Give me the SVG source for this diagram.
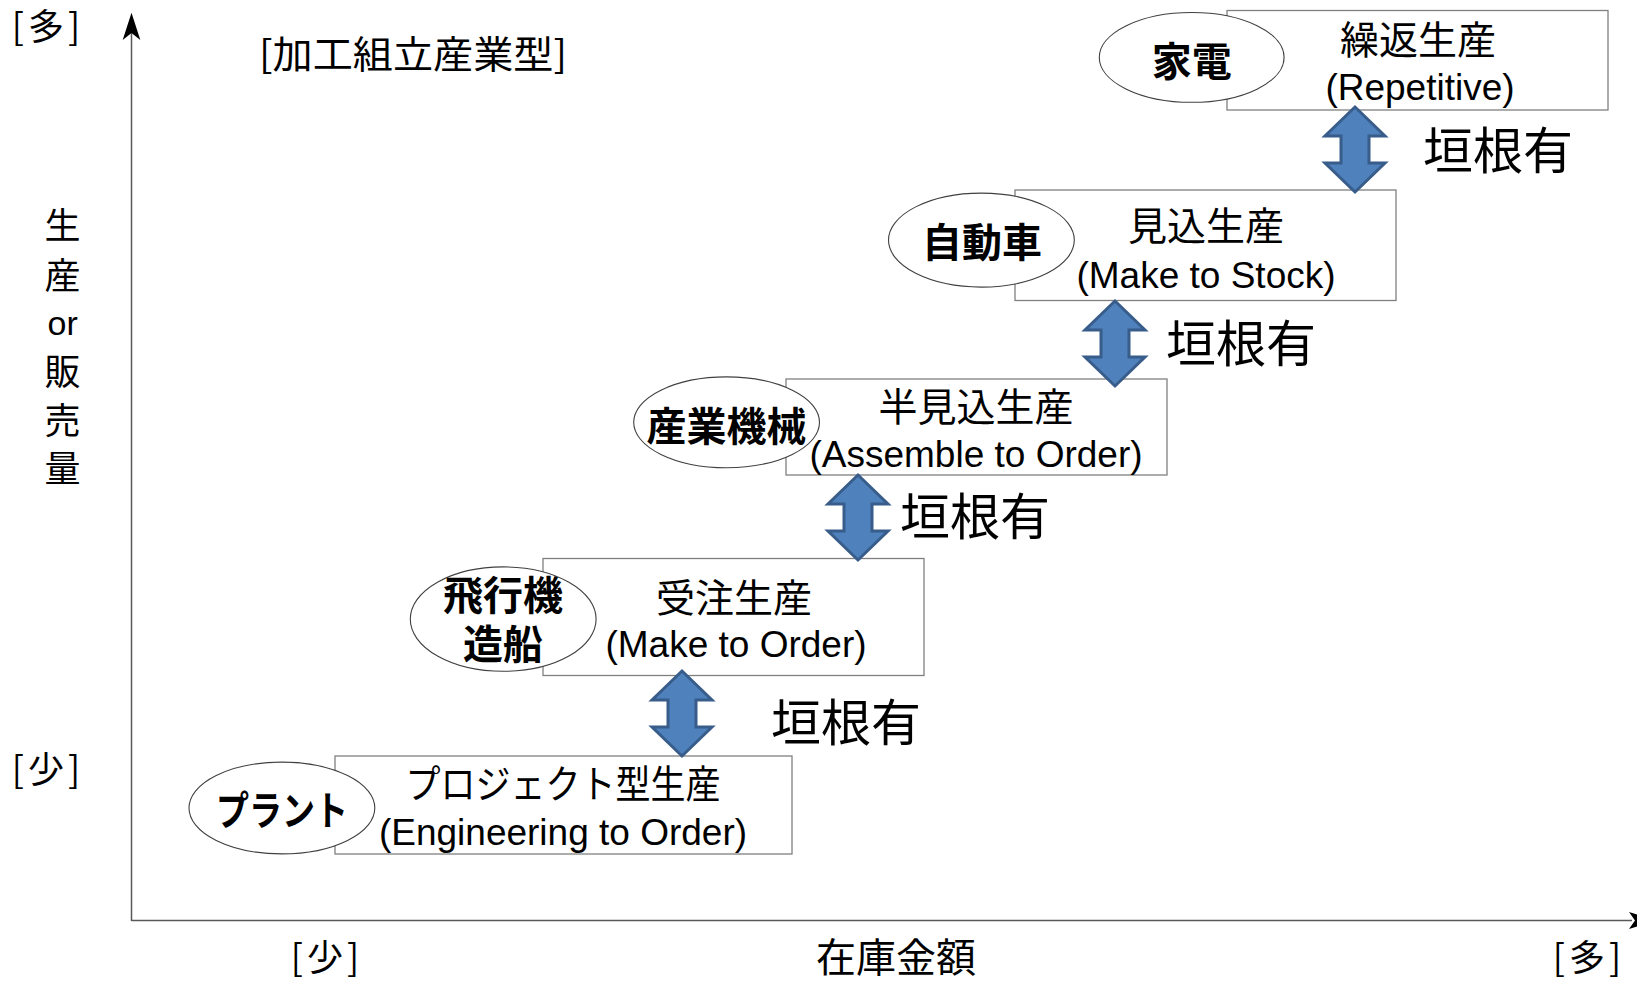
<svg xmlns="http://www.w3.org/2000/svg" width="1637" height="982" viewBox="0 0 1637 982">
<style>
  .bg { fill: #ffffff; }
  .axis { stroke: #595959; stroke-width: 1.5; fill: none; }
  .head { fill: #000000; stroke: none; }
  .box { fill: #ffffff; stroke: #808080; stroke-width: 1.3; }
  .oval { fill: #ffffff; stroke: #404040; stroke-width: 1.1; }
  .cjk { font-family: "Noto Sans CJK JP", "Noto Sans", sans-serif; fill: #000000; }
  .lat { font-family: "Liberation Sans", "Noto Sans CJK JP", sans-serif; fill: #000000; }
  .oval-t { font-family: "Noto Sans CJK JP", sans-serif; font-weight: 700; font-size: 40px; fill: #000; text-anchor: middle; }
  .box-j { font-size: 39px; text-anchor: middle; }
  .box-e { font-size: 37px; text-anchor: middle; }
  .wall { font-family: "Noto Sans CJK JP", sans-serif; font-size: 50px; fill: #000; }
  .dbl { fill: #4F81BD; stroke: #385D8A; stroke-width: 3; stroke-linejoin: miter; }
  .ax-t { font-family: "Noto Sans CJK JP", sans-serif; font-size: 36px; fill: #000; text-anchor: middle; }
</style>
<defs>
  <path id="dblArrow" class="dbl" d="M0,0 L30,29 L14,29 L14,56 L30,56 L0,85 L-30,56 L-14,56 L-14,29 L-30,29 Z"/>
</defs>
<rect class="bg" x="0" y="0" width="1637" height="982"/>

<g id="connectors">
  <line class="axis" x1="131.5" y1="921" x2="131.5" y2="30"/>
  <path class="head" d="M131.5,12.7 L140.3,40 L131.5,33 L122.7,40 Z"/>
  <line class="axis" x1="131.5" y1="920.5" x2="1632" y2="920.5"/>
  <path class="head" d="M1657,920.5 L1629,912 L1635,920.5 L1629,929 Z"/>
</g>

<g id="axis-labels">
  <text class="ax-t" x="46" y="40">[<tspan dx="4">多</tspan><tspan dx="4">]</tspan></text>
  <text class="ax-t" x="46" y="783">[<tspan dx="4">少</tspan><tspan dx="4">]</tspan></text>
  <text class="ax-t" x="325" y="971">[<tspan dx="4">少</tspan><tspan dx="4">]</tspan></text>
  <text class="ax-t" x="1587" y="971">[<tspan dx="4">多</tspan><tspan dx="4">]</tspan></text>
  <text class="cjk" x="896" y="972" font-size="40" text-anchor="middle">在庫金額</text>
  <text class="cjk" x="413" y="68" font-size="38" text-anchor="middle" textLength="308" lengthAdjust="spacingAndGlyphs">[加工組立産業型]</text>
  <g class="cjk" font-size="36" text-anchor="middle">
    <text x="62.6" y="239">生</text>
    <text x="62.6" y="289">産</text>
    <text class="lat" x="62.6" y="335" font-size="34">or</text>
    <text x="62.6" y="385">販</text>
    <text x="62.6" y="434">売</text>
    <text x="62.6" y="482">量</text>
  </g>
</g>

<g id="node-repetitive">
  <rect class="box" x="1227" y="10.5" width="381" height="99.5"/>
  <ellipse class="oval" cx="1191.7" cy="57.4" rx="92.4" ry="44.9"/>
  <text class="oval-t" x="1191.7" y="76">家電</text>
  <text class="cjk box-j" x="1418" y="54">繰返生産</text>
  <text class="lat box-e" x="1420" y="100">(Repetitive)</text>
</g>

<g id="node-mts">
  <rect class="box" x="1015" y="190" width="381" height="110.5"/>
  <ellipse class="oval" cx="981.4" cy="240.1" rx="92.9" ry="47"/>
  <text class="oval-t" x="982" y="257">自動車</text>
  <text class="cjk box-j" x="1206" y="240">見込生産</text>
  <text class="lat box-e" x="1206" y="288">(Make to Stock)</text>
</g>

<g id="node-ato">
  <rect class="box" x="786" y="379" width="381" height="96"/>
  <ellipse class="oval" cx="726.6" cy="422.3" rx="92.9" ry="45.4"/>
  <text class="oval-t" x="726.6" y="441">産業機械</text>
  <text class="cjk box-j" x="976" y="421">半見込生産</text>
  <text class="lat box-e" x="976" y="467">(Assemble to Order)</text>
</g>

<g id="node-mto">
  <rect class="box" x="543" y="558.5" width="381" height="117"/>
  <ellipse class="oval" cx="503.2" cy="619.1" rx="92.9" ry="52.2"/>
  <text class="oval-t" font-size="39"><tspan x="503" y="610">飛行機</tspan><tspan x="503" y="659">造船</tspan></text>
  <text class="cjk box-j" x="734" y="612">受注生産</text>
  <text class="lat box-e" x="736" y="657">(Make to Order)</text>
</g>

<g id="node-eto">
  <rect class="box" x="335" y="756" width="457" height="98"/>
  <ellipse class="oval" cx="281.9" cy="808" rx="92.9" ry="45.9"/>
  <text class="oval-t" x="282" y="825" textLength="132" lengthAdjust="spacingAndGlyphs">プラント</text>
  <text class="cjk box-j" x="563" y="798" textLength="315" lengthAdjust="spacingAndGlyphs">プロジェクト型生産</text>
  <text class="lat box-e" x="563" y="845">(Engineering to Order)</text>
</g>

<g id="barriers">
  <use href="#dblArrow" x="1355" y="107"/>
  <text class="wall" x="1423" y="169">垣根有</text>
  <use href="#dblArrow" x="1115" y="301"/>
  <text class="wall" x="1166" y="362">垣根有</text>
  <use href="#dblArrow" x="858" y="475"/>
  <text class="wall" x="900" y="535">垣根有</text>
  <use href="#dblArrow" x="682" y="671"/>
  <text class="wall" x="771" y="741">垣根有</text>
</g>
</svg>
